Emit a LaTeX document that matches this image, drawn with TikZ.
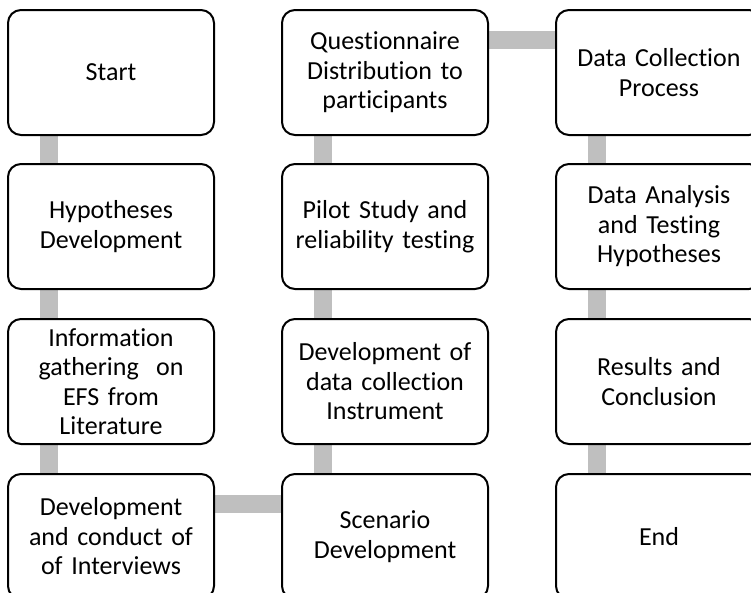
\documentclass[tikz,border=0pt]{standalone}
\usepackage{fontspec}
\setmainfont{Carlito}[Ligatures=NoCommon]
\usepackage{tikz}
\usetikzlibrary{calc,backgrounds}

\tikzset{
	stage/.style={draw=black,line width=2pt,rounded corners=13pt,fill=white,
		minimum width=206pt,minimum height=125pt,inner sep=2pt,
		text width=202pt,align=center,font=\fontsize{26}{29.5}\selectfont},
	link/.style={line width=18pt,draw=black!25}
}

\begin{document}
\begin{tikzpicture}[x=1pt,y=-1pt]
	\useasboundingbox (0,0) rectangle (751,592);
	
	\node[stage] (start) at (111,72.5) {Start};
	\node[stage] (hypo) at (111,226.5) {Hypotheses\\Development};
	\node[stage] (info) at (111,381.5) {Information\\gathering~ on\\EFS from\\Literature};
	\node[stage] (interv) at (111,536.5) {Development\\and conduct of\\of Interviews};
	
	\node[stage] (scen) at (385,536.5) {Scenario\\Development};
	\node[stage] (instr) at (385,381.5) {Development of\\data collection\\Instrument};
	\node[stage] (pilot) at (385,226.5) {Pilot Study and\\reliability testing};
	\node[stage] (quest) at (385,72.5) {Questionnaire\\Distribution to\\participants};
	
	\node[stage] (collect) at (659,72.5) {Data Collection\\Process};
	\node[stage] (analysis) at (659,226.5) {Data Analysis\\and Testing\\Hypotheses};
	\node[stage] (results) at (659,381.5) {Results and\\Conclusion};
	\node[stage] (finish) at (659,536.5) {End};
	
	% grey bars between the boxes, behind them
	\begin{scope}[on background layer]
	\draw[link] ([xshift=42pt]start.south west) -- ([xshift=42pt]hypo.north west);
	\draw[link] ([xshift=42pt]hypo.south west) -- ([xshift=42pt]info.north west);
	\draw[link] ([xshift=42pt]info.south west) -- ([xshift=42pt]interv.north west);
	\draw[link] ([yshift=-31pt]interv.north east) -- ([yshift=-31pt]scen.north west);
	\draw[link] ([xshift=42pt]scen.north west) -- ([xshift=42pt]instr.south west);
	\draw[link] ([xshift=42pt]instr.north west) -- ([xshift=42pt]pilot.south west);
	\draw[link] ([xshift=42pt]pilot.north west) -- ([xshift=42pt]quest.south west);
	\draw[link] ([yshift=-31pt]quest.north east) -- ([yshift=-31pt]collect.north west);
	\draw[link] ([xshift=42pt]collect.south west) -- ([xshift=42pt]analysis.north west);
	\draw[link] ([xshift=42pt]analysis.south west) -- ([xshift=42pt]results.north west);
	\draw[link] ([xshift=42pt]results.south west) -- ([xshift=42pt]finish.north west);
	\end{scope}
\end{tikzpicture}
\end{document}
